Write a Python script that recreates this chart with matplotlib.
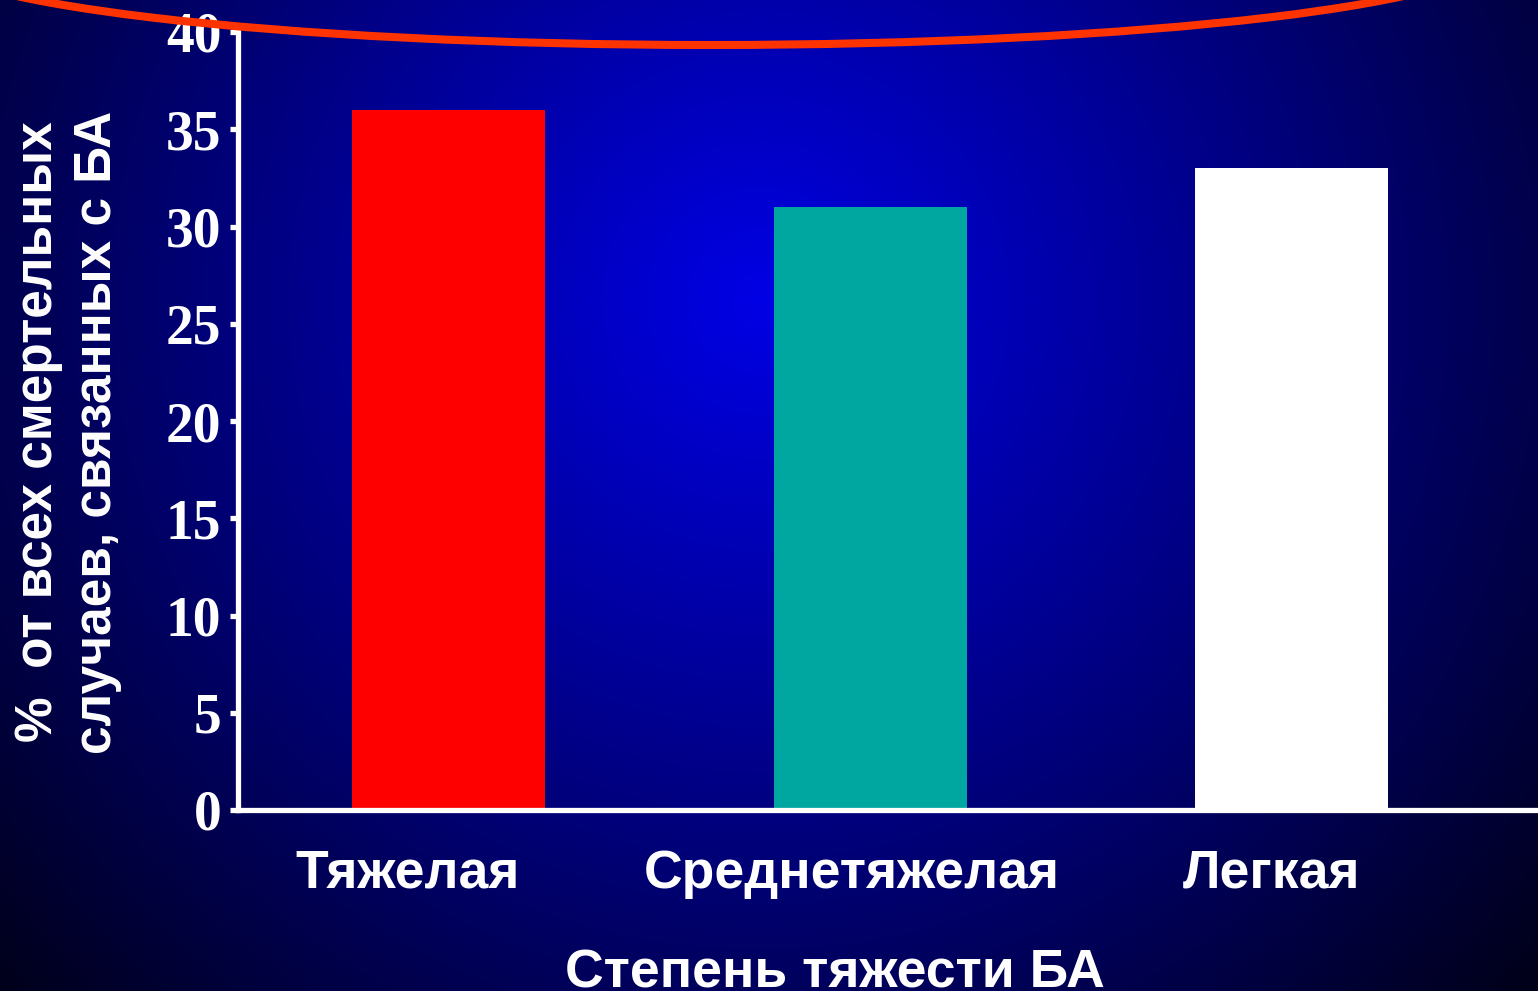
#!/usr/bin/env python3

import matplotlib
matplotlib.use("Agg")
import matplotlib.pyplot as plt
import matplotlib.transforms as mtransforms
import numpy as np
from matplotlib.patches import Ellipse

categories = ["Тяжелая", "Среднетяжелая", "Легкая"]
values = [36, 31, 33]
colors = ["#FF0000", "#00A6A0", "#FFFFFF"]
yticks = [0, 5, 10, 15, 20, 25, 30, 35, 40]
ylabel = "%  от всех смертельных\nслучаев, связанных с БА"
xlabel = "Степень тяжести БА"

W, H = 1538, 991
fig = plt.figure(figsize=(W / 100, H / 100), dpi=100)

# radial blue background
bg = fig.add_axes([0, 0, 1, 1], zorder=-10)
yy, xx = np.mgrid[0:H, 0:W]
r = np.sqrt((xx - 760) ** 2 + (yy - 300) ** 2) / 1030.0
blue = np.clip(0.9 - 0.8 * r, 0.08, 1)
img = np.dstack([np.zeros_like(blue), np.zeros_like(blue), blue])
bg.imshow(img, aspect="auto", extent=[0, W, H, 0])
bg.set_axis_off()

ax = fig.add_axes([238 / W, (H - 810) / H, 1 - 238 / W, (810 - 32) / H])
ax.patch.set_alpha(0)
x = np.arange(len(categories))
ax.bar(x, values, width=0.458, color=colors, zorder=3)
ax.set_xlim(-0.5, 2.585)
ax.set_ylim(0, 40)

for s in ["top", "right"]:
    ax.spines[s].set_visible(False)
for s in ["left", "bottom"]:
    ax.spines[s].set_color("white")
    ax.spines[s].set_linewidth(3.8)
    ax.spines[s].set_zorder(4)

ax.set_yticks(yticks)
ax.set_yticklabels([str(v) for v in yticks], family="Liberation Serif",
                   fontweight="bold", fontsize=40, color="white")
ax.tick_params(axis="y", length=6, width=3.8, color="white", pad=6)

ax.set_xticks(x)
ax.set_xticklabels(categories, family="Liberation Sans", fontweight="bold",
                   fontsize=38.5, color="white")
ax.tick_params(axis="x", length=0, pad=28)
# labels in the original sit a little left of the bar centres
for lab, dx in zip(ax.get_xticklabels(), [-41, -18, -20]):
    lab.set_transform(lab.get_transform() +
                      mtransforms.ScaledTranslation(dx / 100, 0, fig.dpi_scale_trans))

fig.text(835 / W, 4 / H, xlabel, family="Liberation Sans", fontweight="bold",
         fontsize=38.5, color="white", ha="center", va="baseline")

fig.text(68 / W, 1 - 432 / H, ylabel, family="Liberation Sans",
         fontweight="bold", fontsize=37, color="white", rotation=90,
         ha="center", va="center", multialignment="center", linespacing=1.25)

# red arc across the top
arc = Ellipse((710 / W, 1 + 49 / H), 1580 / W, 188 / H, transform=fig.transFigure,
              fill=False, edgecolor="#FF3300", linewidth=5.8, clip_on=False, zorder=10)
fig.add_artist(arc)

fig.savefig("out.png", dpi=100)
